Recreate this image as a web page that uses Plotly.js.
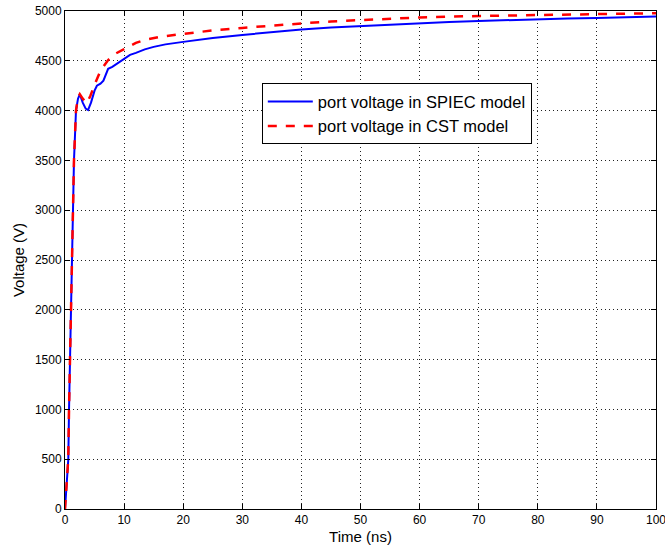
<!DOCTYPE html>
<html>
<head>
<meta charset="utf-8">
<script src="https://cdn.plot.ly/plotly-3.0.1.min.js"></script>
<style>html,body{margin:0;padding:0;background:#fff;}#chart{width:665px;height:552px;}</style>
</head>
<body>
<div id="chart"></div>
<script>
// SPIEC model (blue)
const spiecTime = [0, 0.2, 0.4, 0.56, 0.68, 0.85, 1.0, 1.13, 1.3, 1.52, 1.86, 2.2, 2.5, 3.0, 3.5, 3.9, 4.4, 5.0, 5.4, 6.0, 6.5, 7.3, 8.0, 9.0, 10, 11, 12, 13.5, 15, 17, 20, 25, 30, 35, 40, 45, 50, 55, 60, 65, 70, 75, 80, 85, 90, 95, 100];
const spiecVolt = [0, 200, 350, 500, 1000, 1500, 2000, 2500, 3000, 3500, 4000, 4120, 4164, 4080, 4020, 4006, 4080, 4200, 4250, 4270, 4300, 4420, 4440, 4480, 4525, 4560, 4580, 4615, 4640, 4665, 4690, 4730, 4760, 4790, 4815, 4835, 4850, 4865, 4880, 4890, 4900, 4910, 4915, 4925, 4930, 4937, 4945];
// CST model (red)
const cstTime = [0, 0.2, 0.4, 0.55, 0.68, 0.85, 1.0, 1.13, 1.3, 1.52, 1.86, 2.2, 2.5, 3.0, 3.7, 4.3, 5.1, 6.0, 7.3, 8.5, 10, 12, 13.5, 16, 20, 25, 30, 35, 40, 45, 50, 60, 70, 80, 90, 100];
const cstVolt = [0, 150, 300, 500, 1000, 1500, 2000, 2500, 3000, 3500, 4000, 4130, 4164, 4120, 4074, 4150, 4273, 4400, 4508, 4570, 4618, 4680, 4710, 4740, 4770, 4805, 4830, 4855, 4875, 4895, 4910, 4935, 4950, 4960, 4970, 4978];

const xTicks = [0, 10, 20, 30, 40, 50, 60, 70, 80, 90, 100];
const yTicks = [0, 500, 1000, 1500, 2000, 2500, 3000, 3500, 4000, 4500, 5000];

const traces = [
  {x: spiecTime, y: spiecVolt, type: 'scatter', mode: 'lines', name: 'port voltage in SPIEC model',
   line: {color: '#0000ff', width: 2}},
  {x: cstTime, y: cstVolt, type: 'scatter', mode: 'lines', name: 'port voltage in CST model',
   line: {color: '#ff0000', width: 2.5, dash: 'dash'}}
];

const axisCommon = {
  showline: true, linecolor: '#000', linewidth: 1, mirror: 'ticks',
  ticks: 'inside', ticklen: 5, tickcolor: '#000',
  showgrid: true, gridcolor: '#222', griddash: '1px,3px', gridwidth: 1,
  zeroline: false, tickfont: {family: 'Liberation Sans, Arial', size: 12, color: '#000'}
};

const layout = {
  width: 665, height: 552,
  margin: {l: 65, r: 9, t: 11, b: 43},
  paper_bgcolor: '#fff', plot_bgcolor: '#fff',
  font: {family: 'Liberation Sans, Arial', size: 12, color: '#000'},
  showlegend: true,
  legend: {x: 0.333, y: 0.855, xanchor: 'left', yanchor: 'top',
    bgcolor: '#fff', bordercolor: '#000', borderwidth: 1,
    itemwidth: 45,
    font: {family: 'Liberation Sans, Arial', size: 16.5, color: '#000'},
    tracegroupgap: 0},
  xaxis: Object.assign({}, axisCommon, {
    range: [0, 100], tickvals: xTicks, ticktext: xTicks.map(String),
    ticklabeloverflow: 'allow',
    title: {text: 'Time (ns)', font: {size: 15}, standoff: 5}
  }),
  yaxis: Object.assign({}, axisCommon, {
    range: [0, 5000], tickvals: yTicks, ticktext: yTicks.map(String),
    title: {text: 'Voltage (V)', font: {size: 15}, standoff: 6}
  })
};

Plotly.newPlot('chart', traces, layout, {displayModeBar: false, staticPlot: true});
</script>
</body>
</html>
